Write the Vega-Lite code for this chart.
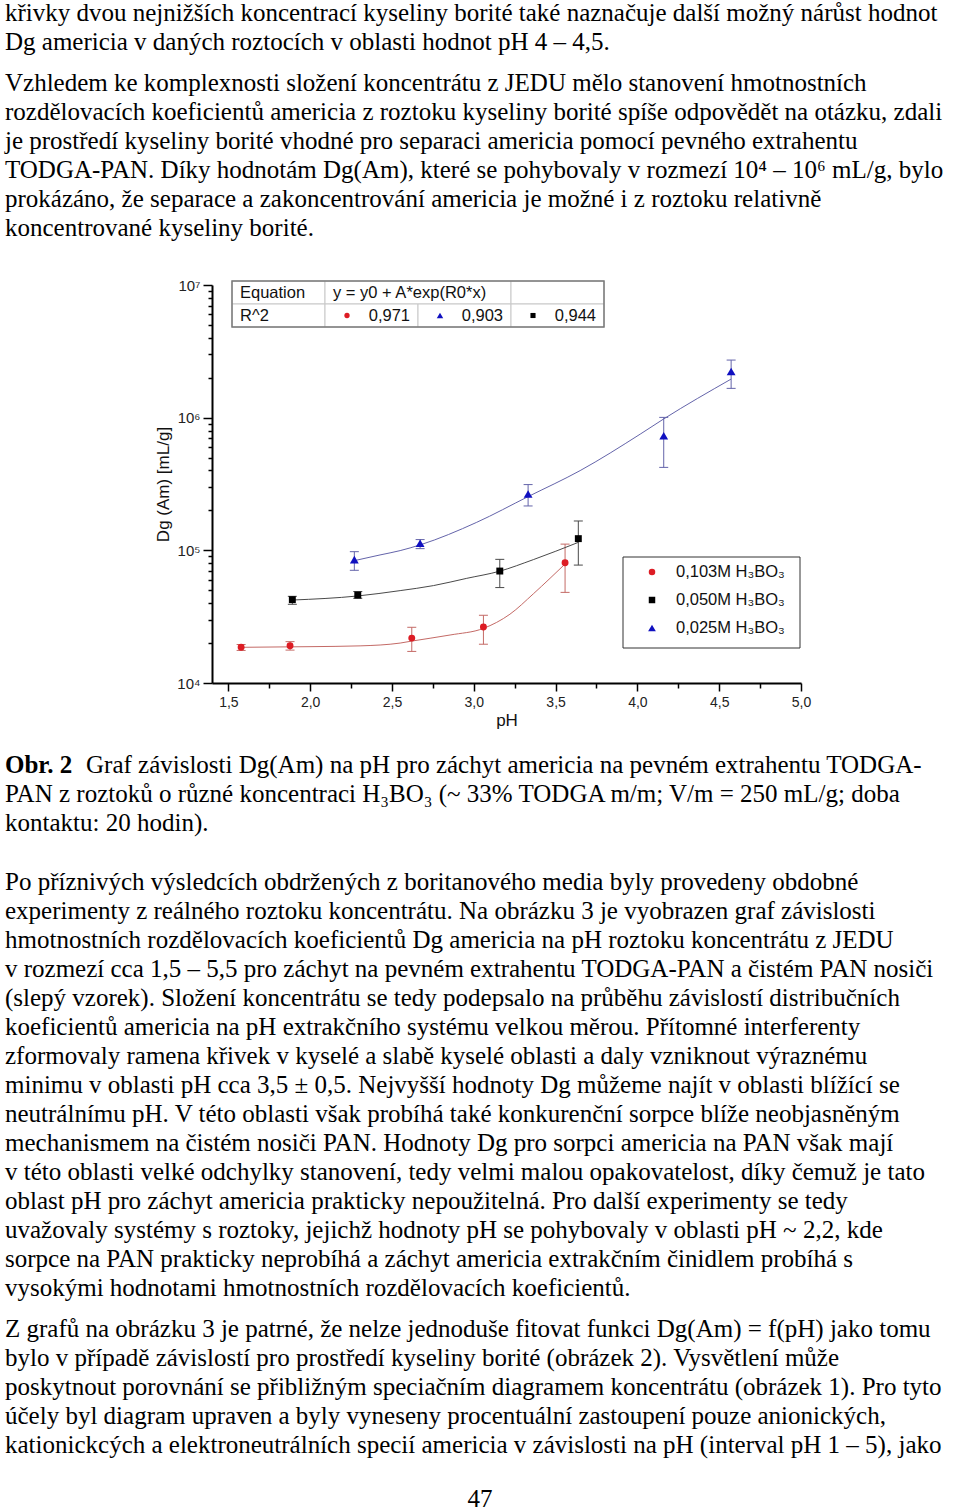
{
  "$schema": "https://vega.github.io/schema/vega-lite/v6.json",
  "background": "white",
  "padding": 0,
  "spacing": 0,
  "bounds": "flush",
  "config": {"view": {"stroke": null}, "font": "Liberation Sans", "axis": {"grid": false}},
  "datasets": {
    "points": [
      {"series": "0,103M H₃BO₃", "pH": 1.578, "D": 18600, "lo": 17600, "hi": 19500},
      {"series": "0,103M H₃BO₃", "pH": 1.877, "D": 19100, "lo": 17700, "hi": 20500},
      {"series": "0,103M H₃BO₃", "pH": 2.621, "D": 21800, "lo": 17300, "hi": 26300},
      {"series": "0,103M H₃BO₃", "pH": 3.059, "D": 26400, "lo": 19600, "hi": 32400},
      {"series": "0,103M H₃BO₃", "pH": 3.558, "D": 80700, "lo": 48200, "hi": 111400},
      {"series": "0,050M H₃BO₃", "pH": 1.891, "D": 42500, "lo": 39200, "hi": 45000},
      {"series": "0,050M H₃BO₃", "pH": 2.291, "D": 46000, "lo": 43500, "hi": 48900},
      {"series": "0,050M H₃BO₃", "pH": 3.159, "D": 69800, "lo": 52400, "hi": 85500},
      {"series": "0,050M H₃BO₃", "pH": 3.639, "D": 122500, "lo": 77400, "hi": 166400},
      {"series": "0,025M H₃BO₃", "pH": 2.270, "D": 85000, "lo": 70700, "hi": 97700},
      {"series": "0,025M H₃BO₃", "pH": 2.672, "D": 113000, "lo": 103000, "hi": 120500},
      {"series": "0,025M H₃BO₃", "pH": 3.332, "D": 266000, "lo": 216000, "hi": 313000},
      {"series": "0,025M H₃BO₃", "pH": 4.161, "D": 731000, "lo": 422000, "hi": 1005000},
      {"series": "0,025M H₃BO₃", "pH": 4.573, "D": 2230000, "lo": 1663000, "hi": 2717000}
    ],
    "fits": [
      {"series": "0,103M H₃BO₃", "pH": 1.578, "D": 18580},
      {"series": "0,103M H₃BO₃", "pH": 1.999, "D": 18790},
      {"series": "0,103M H₃BO₃", "pH": 2.305, "D": 19050},
      {"series": "0,103M H₃BO₃", "pH": 2.550, "D": 20000},
      {"series": "0,103M H₃BO₃", "pH": 2.621, "D": 20700},
      {"series": "0,103M H₃BO₃", "pH": 2.855, "D": 23000},
      {"series": "0,103M H₃BO₃", "pH": 3.059, "D": 25800},
      {"series": "0,103M H₃BO₃", "pH": 3.221, "D": 33000},
      {"series": "0,103M H₃BO₃", "pH": 3.364, "D": 47000},
      {"series": "0,103M H₃BO₃", "pH": 3.466, "D": 61500},
      {"series": "0,103M H₃BO₃", "pH": 3.558, "D": 78900},
      {"series": "0,050M H₃BO₃", "pH": 1.891, "D": 42200},
      {"series": "0,050M H₃BO₃", "pH": 2.291, "D": 45300},
      {"series": "0,050M H₃BO₃", "pH": 2.550, "D": 49700},
      {"series": "0,050M H₃BO₃", "pH": 2.753, "D": 54200},
      {"series": "0,050M H₃BO₃", "pH": 2.957, "D": 61500},
      {"series": "0,050M H₃BO₃", "pH": 3.156, "D": 69500},
      {"series": "0,050M H₃BO₃", "pH": 3.364, "D": 85100},
      {"series": "0,050M H₃BO₃", "pH": 3.639, "D": 114800},
      {"series": "0,025M H₃BO₃", "pH": 2.270, "D": 83600},
      {"series": "0,025M H₃BO₃", "pH": 2.427, "D": 92300},
      {"series": "0,025M H₃BO₃", "pH": 2.550, "D": 99500},
      {"series": "0,025M H₃BO₃", "pH": 2.672, "D": 109900},
      {"series": "0,025M H₃BO₃", "pH": 3.018, "D": 162600},
      {"series": "0,025M H₃BO₃", "pH": 3.332, "D": 254100},
      {"series": "0,025M H₃BO₃", "pH": 3.650, "D": 399000},
      {"series": "0,025M H₃BO₃", "pH": 4.017, "D": 751000},
      {"series": "0,025M H₃BO₃", "pH": 4.159, "D": 975000},
      {"series": "0,025M H₃BO₃", "pH": 4.573, "D": 1954000}
    ],
    "table": [
      {"kind": "cell", "r0": 0, "r1": 1, "c0": 0, "c1": 1},
      {"kind": "cell", "r0": 0, "r1": 1, "c0": 1, "c1": 3},
      {"kind": "cell", "r0": 0, "r1": 1, "c0": 3, "c1": 4},
      {"kind": "cell", "r0": 1, "r1": 2, "c0": 0, "c1": 1},
      {"kind": "cell", "r0": 1, "r1": 2, "c0": 1, "c1": 2},
      {"kind": "cell", "r0": 1, "r1": 2, "c0": 2, "c1": 3},
      {"kind": "cell", "r0": 1, "r1": 2, "c0": 3, "c1": 4},
      {"kind": "frame", "r0": 0, "r1": 2, "c0": 0, "c1": 4},
      {"kind": "label", "r0": 0, "c0": 0, "text": "Equation"},
      {"kind": "label", "r0": 0, "c0": 1, "text": "y = y0 + A*exp(R0*x)"},
      {"kind": "label", "r0": 1, "c0": 0, "text": "R^2"},
      {"kind": "value", "r0": 1, "c1": 2, "text": "0,971"},
      {"kind": "value", "r0": 1, "c1": 3, "text": "0,903"},
      {"kind": "value", "r0": 1, "c1": 4, "text": "0,944"},
      {"kind": "symbol", "r0": 1, "c0": 1, "series": "0,103M H₃BO₃"},
      {"kind": "symbol", "r0": 1, "c0": 2, "series": "0,025M H₃BO₃"},
      {"kind": "symbol", "r0": 1, "c0": 3, "series": "0,050M H₃BO₃"}
    ],
    "legend": [
      {"kind": "frame", "c0": 0, "c1": 1, "i0": 0, "i1": 2},
      {"kind": "entry", "c0": 0, "i0": 0, "series": "0,103M H₃BO₃"},
      {"kind": "entry", "c0": 0, "i0": 1, "series": "0,050M H₃BO₃"},
      {"kind": "entry", "c0": 0, "i0": 2, "series": "0,025M H₃BO₃"}
    ]
  },
  "vconcat": [
    {
      "width": 960, "height": 71,
      "data": {"values": [
        {"line": 1, "text": "křivky dvou nejnižších koncentrací kyseliny borité také naznačuje další možný nárůst hodnot"},
        {"line": 2, "text": "Dg americia v daných roztocích v oblasti hodnot pH 4 – 4,5."}
      ]},
      "mark": {"type": "text", "align": "left", "baseline": "alphabetic", "font": "Liberation Serif", "fontSize": 25, "color": "black", "x": 5},
      "encoding": {
        "y": {"field": "line", "type": "quantitative", "scale": {"domain": [0.362, 2.810], "reverse": true, "nice": false, "zero": false}, "axis": null},
        "text": {"field": "text"}
      }
    },
    {
      "width": 960, "height": 212,
      "data": {"values": [
        {"line": 1, "text": "Vzhledem ke komplexnosti složení koncentrátu z JEDU mělo stanovení hmotnostních"},
        {"line": 2, "text": "rozdělovacích koeficientů americia z roztoku kyseliny borité spíše odpovědět na otázku, zdali"},
        {"line": 3, "text": "je prostředí kyseliny borité vhodné pro separaci americia pomocí pevného extrahentu"},
        {"line": 4, "text": "TODGA-PAN. Díky hodnotám Dg(Am), které se pohybovaly v rozmezí 10⁴ – 10⁶ mL/g, bylo"},
        {"line": 5, "text": "prokázáno, že separace a zakoncentrování americia je možné i z roztoku relativně"},
        {"line": 6, "text": "koncentrované kyseliny borité."}
      ]},
      "mark": {"type": "text", "align": "left", "baseline": "alphabetic", "font": "Liberation Serif", "fontSize": 25, "color": "black", "x": 5},
      "encoding": {
        "y": {"field": "line", "type": "quantitative", "scale": {"domain": [0.3793, 7.6896], "reverse": true, "nice": false, "zero": false}, "axis": null},
        "text": {"field": "text"}
      }
    },
    {
      "width": 960, "height": 398,
      "layer": [
        {
          "layer": [
            {
              "data": {"name": "points"},
              "mark": {"type": "rule", "strokeWidth": 1},
              "encoding": {
                "x": {"field": "pH", "type": "quantitative",
                  "scale": {"domain": [1.4, 5.0], "range": [212, 801], "nice": false, "zero": false},
                  "axis": {
                    "values": [1.5, 1.75, 2, 2.25, 2.5, 2.75, 3, 3.25, 3.5, 3.75, 4, 4.25, 4.5, 4.75, 5],
                    "labelExpr": "(datum.value*4)%2==0 ? replace(format(datum.value,'.1f'),'.',',') : ''",
                    "tickSize": {"condition": {"test": "(datum.value*4)%2==0", "value": 8}, "value": 5},
                    "title": "pH", "titleFont": "Liberation Sans", "titleFontSize": 17, "titleFontWeight": "normal", "titleColor": "#111", "titlePadding": 3,
                    "labelFont": "Liberation Sans", "labelFontSize": 14, "labelColor": "#222", "labelPadding": 4,
                    "domainColor": "#000", "domainWidth": 2, "tickColor": "#000", "tickWidth": 1.5,
                    "labelOverlap": false, "labelFlush": false, "grid": false
                  }},
                "y": {"field": "lo", "type": "quantitative",
                  "scale": {"type": "log", "domain": [10000, 10000000], "nice": false},
                  "axis": {
                    "values": [10000, 20000, 30000, 40000, 50000, 60000, 70000, 80000, 90000, 100000, 200000, 300000, 400000, 500000, 600000, 700000, 800000, 900000, 1000000, 2000000, 3000000, 4000000, 5000000, 6000000, 7000000, 8000000, 9000000, 10000000],
                    "labelExpr": "abs(log(datum.value)/LN10 - round(log(datum.value)/LN10)) < 0.01 ? '10' + ['⁰','¹','²','³','⁴','⁵','⁶','⁷','⁸'][round(log(datum.value)/LN10)] : ''",
                    "tickSize": {"condition": {"test": "abs(log(datum.value)/LN10 - round(log(datum.value)/LN10)) < 0.01", "value": 9}, "value": 4},
                    "offset": -212,
                    "title": "Dg (Am) [mL/g]", "titleFont": "Liberation Sans", "titleFontSize": 17, "titleFontWeight": "normal", "titleColor": "#111", "titlePadding": 4,
                    "labelFont": "Liberation Sans", "labelFontSize": 15, "labelColor": "#222", "labelPadding": 3,
                    "domainColor": "#000", "domainWidth": 2, "tickColor": "#000", "tickWidth": 1.5,
                    "labelOverlap": false, "labelFlush": false, "grid": false
                  }},
                "y2": {"field": "hi"},
                "stroke": {"field": "series", "type": "nominal",
                  "scale": {"domain": ["0,103M H₃BO₃", "0,050M H₃BO₃", "0,025M H₃BO₃"], "range": ["#c46a66", "#4a4a4a", "#6464aa"]},
                  "legend": null}
              }
            },
            {
              "data": {"name": "points"},
              "mark": {"type": "rule", "strokeWidth": 1, "xOffset": -4.5, "x2Offset": 4.5},
              "encoding": {
                "x": {"field": "pH", "type": "quantitative"},
                "x2": {"field": "pH"},
                "y": {"field": "lo", "type": "quantitative"},
                "stroke": {"field": "series", "type": "nominal", "legend": null}
              }
            },
            {
              "data": {"name": "points"},
              "mark": {"type": "rule", "strokeWidth": 1, "xOffset": -4.5, "x2Offset": 4.5},
              "encoding": {
                "x": {"field": "pH", "type": "quantitative"},
                "x2": {"field": "pH"},
                "y": {"field": "hi", "type": "quantitative"},
                "stroke": {"field": "series", "type": "nominal", "legend": null}
              }
            },
            {
              "data": {"name": "fits"},
              "mark": {"type": "line", "strokeWidth": 1, "interpolate": "monotone"},
              "encoding": {
                "x": {"field": "pH", "type": "quantitative"},
                "y": {"field": "D", "type": "quantitative"},
                "stroke": {"field": "series", "type": "nominal", "legend": null}
              }
            },
            {
              "data": {"name": "points"},
              "transform": [{"filter": "datum.series != '0,025M H₃BO₃'"}],
              "mark": {"type": "point", "filled": true, "opacity": 1, "size": 48},
              "encoding": {
                "x": {"field": "pH", "type": "quantitative"},
                "y": {"field": "D", "type": "quantitative"},
                "color": {"field": "series", "type": "nominal",
                  "scale": {"domain": ["0,103M H₃BO₃", "0,050M H₃BO₃", "0,025M H₃BO₃"], "range": ["#dd1c24", "#000000", "#1010c0"]},
                  "legend": null},
                "shape": {"field": "series", "type": "nominal",
                  "scale": {"domain": ["0,103M H₃BO₃", "0,050M H₃BO₃", "0,025M H₃BO₃"], "range": ["circle", "square", "triangle-up"]},
                  "legend": null}
              }
            },
            {
              "data": {"name": "points"},
              "transform": [{"filter": "datum.series == '0,025M H₃BO₃'"}],
              "mark": {"type": "point", "filled": true, "opacity": 1, "size": 78},
              "encoding": {
                "x": {"field": "pH", "type": "quantitative"},
                "y": {"field": "D", "type": "quantitative"},
                "color": {"field": "series", "type": "nominal", "legend": null},
                "shape": {"field": "series", "type": "nominal", "legend": null}
              }
            }
          ]
        },
        {
          "data": {"name": "table"},
          "layer": [
            {
              "transform": [{"filter": "datum.kind == 'cell'"}],
              "mark": {"type": "rect", "fill": "white", "stroke": "#c8c8c8", "strokeWidth": 1},
              "encoding": {
                "x": {"field": "c0", "type": "quantitative", "scale": {"domain": [0, 4], "range": [232, 604], "nice": false, "zero": false}, "axis": null},
                "x2": {"field": "c1"},
                "y": {"field": "r0", "type": "quantitative", "scale": {"domain": [0, 2], "range": [-4, 42], "nice": false, "zero": false}, "axis": null},
                "y2": {"field": "r1"}
              }
            },
            {
              "transform": [{"filter": "datum.kind == 'frame'"}],
              "mark": {"type": "rect", "fill": null, "stroke": "#7a7a7a", "strokeWidth": 1.5},
              "encoding": {
                "x": {"field": "c0", "type": "quantitative"},
                "x2": {"field": "c1"},
                "y": {"field": "r0", "type": "quantitative"},
                "y2": {"field": "r1"}
              }
            },
            {
              "transform": [{"filter": "datum.kind == 'label'"}],
              "mark": {"type": "text", "align": "left", "baseline": "middle", "xOffset": 8, "yOffset": 11.5, "font": "Liberation Sans", "fontSize": 16.5, "color": "#111"},
              "encoding": {
                "x": {"field": "c0", "type": "quantitative"},
                "y": {"field": "r0", "type": "quantitative"},
                "text": {"field": "text"}
              }
            },
            {
              "transform": [{"filter": "datum.kind == 'value'"}],
              "mark": {"type": "text", "align": "right", "baseline": "middle", "xOffset": -8, "yOffset": 11.5, "font": "Liberation Sans", "fontSize": 16.5, "color": "#111"},
              "encoding": {
                "x": {"field": "c1", "type": "quantitative"},
                "y": {"field": "r0", "type": "quantitative"},
                "text": {"field": "text"}
              }
            },
            {
              "transform": [{"filter": "datum.kind == 'symbol' && datum.series == '0,103M H₃BO₃'"}],
              "mark": {"type": "point", "shape": "circle", "filled": true, "opacity": 1, "color": "#dd1c24", "size": 28, "xOffset": 22, "yOffset": 11.5},
              "encoding": {
                "x": {"field": "c0", "type": "quantitative"},
                "y": {"field": "r0", "type": "quantitative"}
              }
            },
            {
              "transform": [{"filter": "datum.kind == 'symbol' && datum.series == '0,050M H₃BO₃'"}],
              "mark": {"type": "point", "shape": "square", "filled": true, "opacity": 1, "color": "#000000", "size": 26, "xOffset": 22, "yOffset": 11.5},
              "encoding": {
                "x": {"field": "c0", "type": "quantitative"},
                "y": {"field": "r0", "type": "quantitative"}
              }
            },
            {
              "transform": [{"filter": "datum.kind == 'symbol' && datum.series == '0,025M H₃BO₃'"}],
              "mark": {"type": "point", "shape": "triangle-up", "filled": true, "opacity": 1, "color": "#1010c0", "size": 42, "xOffset": 22, "yOffset": 11.5},
              "encoding": {
                "x": {"field": "c0", "type": "quantitative"},
                "y": {"field": "r0", "type": "quantitative"}
              }
            }
          ]
        },
        {
          "data": {"name": "legend"},
          "layer": [
            {
              "transform": [{"filter": "datum.kind == 'frame'"}],
              "mark": {"type": "rect", "fill": "white", "stroke": "#333", "strokeWidth": 1, "yOffset": -15, "y2Offset": 20},
              "encoding": {
                "x": {"field": "c0", "type": "quantitative", "scale": {"domain": [0, 1], "range": [623, 800], "nice": false, "zero": false}, "axis": null},
                "x2": {"field": "c1"},
                "y": {"field": "i0", "type": "quantitative", "scale": {"domain": [0, 2], "range": [287, 343], "nice": false, "zero": false}, "axis": null},
                "y2": {"field": "i1"}
              }
            },
            {
              "transform": [{"filter": "datum.kind == 'entry' && datum.series != '0,025M H₃BO₃'"}],
              "mark": {"type": "point", "filled": true, "opacity": 1, "size": 42, "xOffset": 29},
              "encoding": {
                "x": {"field": "c0", "type": "quantitative"},
                "y": {"field": "i0", "type": "quantitative"},
                "color": {"field": "series", "type": "nominal", "legend": null},
                "shape": {"field": "series", "type": "nominal", "legend": null}
              }
            },
            {
              "transform": [{"filter": "datum.kind == 'entry' && datum.series == '0,025M H₃BO₃'"}],
              "mark": {"type": "point", "filled": true, "opacity": 1, "size": 60, "xOffset": 29},
              "encoding": {
                "x": {"field": "c0", "type": "quantitative"},
                "y": {"field": "i0", "type": "quantitative"},
                "color": {"field": "series", "type": "nominal", "legend": null},
                "shape": {"field": "series", "type": "nominal", "legend": null}
              }
            },
            {
              "transform": [{"filter": "datum.kind == 'entry'"}],
              "mark": {"type": "text", "align": "left", "baseline": "middle", "xOffset": 53, "font": "Liberation Sans", "fontSize": 16.5, "color": "#111"},
              "encoding": {
                "x": {"field": "c0", "type": "quantitative"},
                "y": {"field": "i0", "type": "quantitative"},
                "text": {"field": "series"}
              }
            }
          ]
        }
      ],
      "resolve": {"scale": {"x": "independent", "y": "independent"}}
    },
    {
      "width": 960, "height": 179,
      "data": {"values": [
        {"line": 1, "part": "bold", "text": "Obr. 2"},
        {"line": 1, "part": "rest", "text": "Graf závislosti Dg(Am) na pH pro záchyt americia na pevném extrahentu TODGA-"},
        {"line": 2, "part": "plain", "text": "PAN z roztoků o různé koncentraci H₃BO₃ (~ 33% TODGA  m/m; V/m = 250 mL/g;  doba"},
        {"line": 3, "part": "plain", "text": "kontaktu: 20 hodin)."}
      ]},
      "encoding": {
        "y": {"field": "line", "type": "quantitative", "scale": {"domain": [-2.1034, 4.069], "reverse": true, "nice": false, "zero": false}, "axis": null},
        "text": {"field": "text"}
      },
      "layer": [
        {"transform": [{"filter": "datum.part == 'bold'"}],
         "mark": {"type": "text", "align": "left", "baseline": "alphabetic", "font": "Liberation Serif", "fontSize": 25, "fontWeight": "bold", "color": "black", "x": 5}},
        {"transform": [{"filter": "datum.part == 'rest'"}],
         "mark": {"type": "text", "align": "left", "baseline": "alphabetic", "font": "Liberation Serif", "fontSize": 25, "color": "black", "x": 86}},
        {"transform": [{"filter": "datum.part == 'plain'"}],
         "mark": {"type": "text", "align": "left", "baseline": "alphabetic", "font": "Liberation Serif", "fontSize": 25, "color": "black", "x": 5}}
      ]
    },
    {
      "width": 960, "height": 447,
      "data": {"values": [
        {"line": 1, "text": "Po příznivých výsledcích obdržených z boritanového media byly provedeny obdobné"},
        {"line": 2, "text": "experimenty z reálného roztoku koncentrátu. Na obrázku 3 je vyobrazen graf závislosti"},
        {"line": 3, "text": "hmotnostních rozdělovacích koeficientů Dg americia na pH roztoku koncentrátu z JEDU"},
        {"line": 4, "text": "v rozmezí cca 1,5 – 5,5 pro záchyt na pevném extrahentu TODGA-PAN a čistém PAN nosiči"},
        {"line": 5, "text": "(slepý vzorek). Složení koncentrátu se tedy podepsalo na průběhu závislostí distribučních"},
        {"line": 6, "text": "koeficientů americia na pH extrakčního systému velkou měrou. Přítomné interferenty"},
        {"line": 7, "text": "zformovaly ramena křivek v kyselé a slabě kyselé oblasti a daly vzniknout výraznému"},
        {"line": 8, "text": "minimu v oblasti pH cca 3,5 ± 0,5. Nejvyšší hodnoty Dg můžeme najít v oblasti blížící se"},
        {"line": 9, "text": "neutrálnímu pH. V této oblasti však probíhá také konkurenční sorpce blíže neobjasněným"},
        {"line": 10, "text": "mechanismem na čistém nosiči PAN. Hodnoty Dg pro sorpci americia na PAN však mají"},
        {"line": 11, "text": "v této oblasti velké odchylky stanovení, tedy velmi malou opakovatelost, díky čemuž je tato"},
        {"line": 12, "text": "oblast pH pro záchyt americia prakticky nepoužitelná. Pro další experimenty se tedy"},
        {"line": 13, "text": "uvažovaly systémy s roztoky, jejichž hodnoty pH se pohybovaly v oblasti pH ~ 2,2, kde"},
        {"line": 14, "text": "sorpce na PAN prakticky neprobíhá a záchyt americia extrakčním činidlem probíhá s"},
        {"line": 15, "text": "vysokými hodnotami hmotnostních rozdělovacích koeficientů."}
      ]},
      "mark": {"type": "text", "align": "left", "baseline": "alphabetic", "font": "Liberation Serif", "fontSize": 25, "color": "black", "x": 5},
      "encoding": {
        "y": {"field": "line", "type": "quantitative", "scale": {"domain": [0.0345, 15.4483], "reverse": true, "nice": false, "zero": false}, "axis": null},
        "text": {"field": "text"}
      }
    },
    {
      "width": 960, "height": 153,
      "data": {"values": [
        {"line": 1, "text": "Z grafů na obrázku 3 je patrné, že nelze jednoduše fitovat funkci Dg(Am) = f(pH) jako tomu"},
        {"line": 2, "text": "bylo v případě závislostí pro prostředí kyseliny borité (obrázek 2). Vysvětlení může"},
        {"line": 3, "text": "poskytnout porovnání se přibližným speciačním diagramem koncentrátu (obrázek 1). Pro tyto"},
        {"line": 4, "text": "účely byl diagram upraven a byly vyneseny procentuální zastoupení pouze anionických,"},
        {"line": 5, "text": "kationickcých a elektroneutrálních specií americia v závislosti na pH (interval pH 1 – 5), jako"}
      ]},
      "mark": {"type": "text", "align": "left", "baseline": "alphabetic", "font": "Liberation Serif", "fontSize": 25, "color": "black", "x": 5},
      "encoding": {
        "y": {"field": "line", "type": "quantitative", "scale": {"domain": [0.0345, 5.3104], "reverse": true, "nice": false, "zero": false}, "axis": null},
        "text": {"field": "text"}
      }
    },
    {
      "width": 960, "height": 49,
      "data": {"values": [{"line": 1, "text": "47"}]},
      "mark": {"type": "text", "align": "center", "baseline": "alphabetic", "font": "Liberation Serif", "fontSize": 25, "color": "black", "x": 480},
      "encoding": {
        "y": {"field": "line", "type": "quantitative", "scale": {"domain": [-0.5517, 1.1379], "reverse": true, "nice": false, "zero": false}, "axis": null},
        "text": {"field": "text"}
      }
    }
  ]
}
